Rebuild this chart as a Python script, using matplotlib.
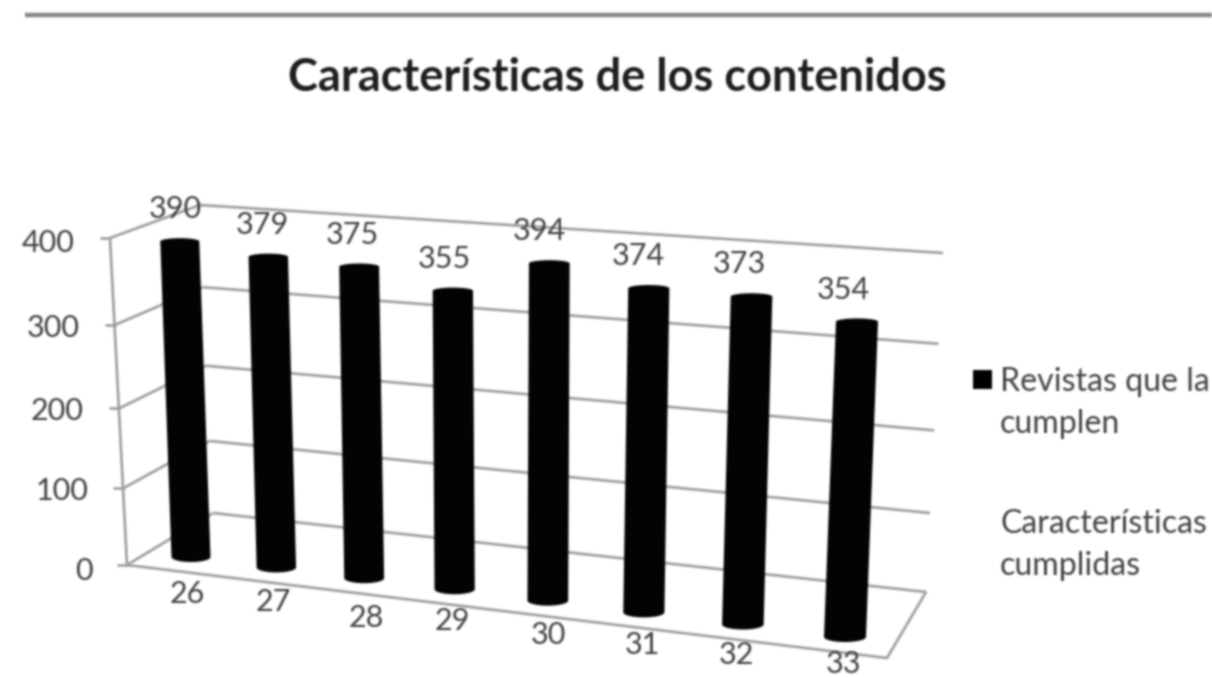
import numpy as np
import matplotlib
matplotlib.use("Agg")
import matplotlib.pyplot as plt
from matplotlib.patches import Polygon, Rectangle
from matplotlib.transforms import Transform

# ---- data ----
title = "Características de los contenidos"
categories = ["26", "27", "28", "29", "30", "31", "32", "33"]
values = [390, 379, 375, 355, 394, 374, 373, 354]
y_ticks = [0, 100, 200, 300, 400]
legend_labels = ["Revistas que la\ncumplen", "Características\ncumplidas"]

# ---- layout (pixels of the 1212x677 canvas) ----
W, H, DPI = 1212, 677, 100
VMAX = 400.0
BAR_PLANE = [(191, 557), (845, 637), (179.5, 233), (858.6, 279)]
BACK_WALL = [(213, 513), (926, 592), (200, 205), (943, 253)]
SIDE_WALL = [(127, 565), (213, 513), (110, 238), (200, 205)]
FLOOR_FRONT_RIGHT = (887, 658)
LABEL_OFFSETS = [(-4, 37), (-3, 35), (2, 40), (-2, 32), (1, 34), (-1, 33), (-7, 30), (-2, 27)]
TICK_RIGHT = [93, 88, 83, 80, 75]
TICK_DY = [5.5, 3, 2.5, 2.5, 5]
GRID = "#9c9c9c"
TXT = "#404040"
FS = 22


def homography(quad, x0, x1, y0, y1):
    src = [(x0, y0), (x1, y0), (x0, y1), (x1, y1)]
    A, b = [], []
    for (u, v), (X, Y) in zip(src, quad):
        A.append([u, v, 1, 0, 0, 0, -u * X, -v * X]); b.append(X)
        A.append([0, 0, 0, u, v, 1, -u * Y, -v * Y]); b.append(Y)
    return np.append(np.linalg.solve(np.array(A, float), np.array(b, float)), 1).reshape(3, 3)


class Projective(Transform):
    """Perspective mapping of a chart plane (position, value) on the canvas."""
    input_dims = output_dims = 2
    is_separable = False
    has_inverse = False

    def __init__(self, quad, x0, x1, k=0.051):
        super().__init__()
        self.m = homography(quad, x0, x1, 0, VMAX)
        self.k = k

    def transform_non_affine(self, pts):
        pts = np.asarray(pts, float)
        t = pts[:, 1] / VMAX
        s = t / (1 + self.k * (1 - t)) * VMAX
        h = np.column_stack([pts[:, 0], s, np.ones(len(pts))]) @ self.m.T
        return h[:, :2] / h[:, 2:]


def soft(img, dpi, sigma=1.05, pad=5):
    r = int(3 * sigma)
    kern = np.exp(-0.5 * (np.arange(-r, r + 1) / sigma) ** 2)
    kern /= kern.sum()
    a = np.pad(img, ((pad + r, pad + r), (pad + r, pad + r), (0, 0)))
    def blur(c):
        c = np.apply_along_axis(lambda m: np.convolve(m, kern, mode="same"), 0, c)
        return np.apply_along_axis(lambda m: np.convolve(m, kern, mode="same"), 1, c)
    alpha = a[..., 3]
    ba = blur(alpha)
    out = np.zeros_like(a)
    for i in range(3):
        out[..., i] = blur(a[..., i] * alpha) / np.maximum(ba, 1e-4)
    out[..., 3] = ba
    return np.clip(out, 0, 1), -(pad + r), -(pad + r)


fig = plt.figure(figsize=(W / DPI, H / DPI), dpi=DPI, facecolor="white")
ax = fig.add_axes([0, 0, 1, 1])
ax.set_xlim(0, W)
ax.set_ylim(H, 0)
ax.axis("off")
plt.rcParams["font.family"] = ["Lato", "DejaVu Sans"]

bar_t = Projective(BAR_PLANE, 0, len(values) - 1, k=0.0)
back_t = Projective(BACK_WALL, -0.5, len(values) - 0.5)
side_t = Projective(SIDE_WALL, 0, 1)


def line(xs, ys, t=None, **kw):
    kw.setdefault("color", GRID)
    kw.setdefault("lw", 1.9)
    l = ax.plot(xs, ys, transform=(t + ax.transData) if t else ax.transData,
                solid_capstyle="butt", solid_joinstyle="miter", **kw)[0]
    l.set_agg_filter(soft)
    return l


def txt(x, y, s, **kw):
    kw.setdefault("fontsize", FS)
    kw.setdefault("color", TXT)
    kw.setdefault("ha", "center")
    kw.setdefault("va", "center")
    t = ax.text(x, y, s, **kw)
    t.set_agg_filter(soft)
    return t


# header rule and title
line([25, W], [15, 15], color="#858585", lw=3.2)
txt(617, 78, title, fontsize=32.5, fontweight="bold", color="#1c1c1c")

# walls
n = len(values)
for j, v in enumerate(y_ticks):
    line([-0.5, n - 0.5], [v, v], back_t)
    line([0, 1], [v, v], side_t)
    fx, fy = side_t.transform(np.array([[0.0, v]]))[0]
    line([fx - 10, fx], [fy, fy])
    txt(TICK_RIGHT[j], fy + TICK_DY[j], str(v), ha="right")
line([0, 0], [0, VMAX], side_t)

# floor
front_left = side_t.transform(np.array([[0.0, 0.0]]))[0]
back_right = back_t.transform(np.array([[n - 0.5, 0.0]]))[0]
line([front_left[0], FLOOR_FRONT_RIGHT[0], back_right[0]],
     [front_left[1], FLOOR_FRONT_RIGHT[1], back_right[1]])


# bars
def cylinder(x, v):
    (bx, by), (tx, ty) = bar_t.transform(np.array([[x, 0.0], [x, float(v)]]))
    half = 19.5 + 1.5 * x / (n - 1)
    a = np.linspace(np.pi, 0, 24)
    top = np.column_stack([tx + half * np.cos(a), ty - 3.2 * np.sin(a)])
    a2 = np.linspace(0, -np.pi, 24)
    bot = np.column_stack([bx + half * np.cos(a2), by - 5 * np.sin(a2)])
    return np.vstack([top, bot]), (tx, ty), (bx, by)


for i, (c, v) in enumerate(zip(categories, values)):
    pts, (tx, ty), (bx, by) = cylinder(i, v)
    p = Polygon(pts, closed=True, facecolor="#020202", edgecolor="none", zorder=3)
    ax.add_patch(p)
    p.set_agg_filter(soft)
    txt(tx - 4.5 - 1.3 * i, ty - 32, str(v), zorder=4)
    ox, oy = LABEL_OFFSETS[i]
    txt(bx + ox, by + oy, c, zorder=4)

# legend
r = Rectangle((973, 370), 19, 19, facecolor="black", edgecolor="none")
ax.add_patch(r)
r.set_agg_filter(soft)
txt(1000, 403, legend_labels[0], ha="left", linespacing=1.5, fontsize=23.1)
txt(1000, 545, legend_labels[1], ha="left", linespacing=1.5, fontsize=23.1)

fig.savefig("out.png", dpi=DPI, facecolor="white")
